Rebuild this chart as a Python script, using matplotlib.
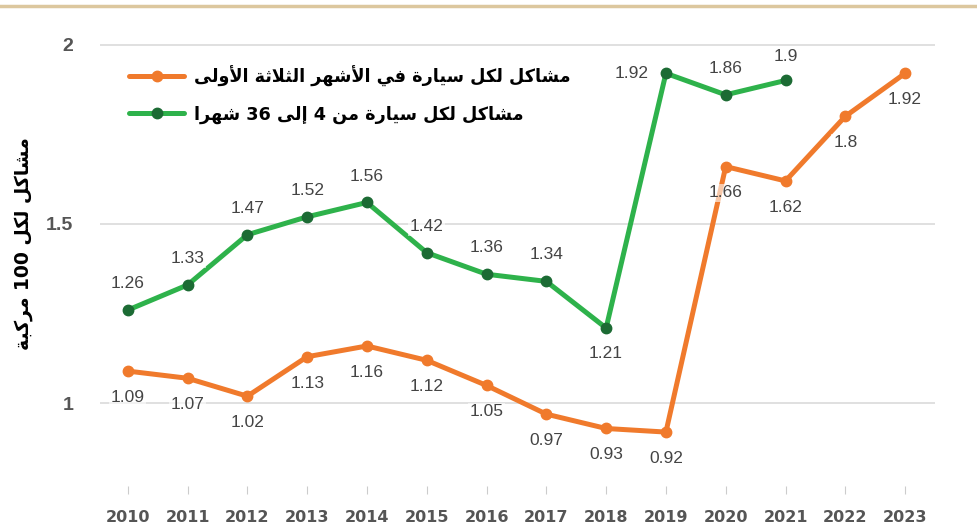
import re

import matplotlib
matplotlib.use("Agg")
import matplotlib.pyplot as plt
from matplotlib.lines import Line2D


years = [2010, 2011, 2012, 2013, 2014, 2015, 2016, 2017, 2018, 2019, 2020, 2021, 2022, 2023]

first_3_months = [1.09, 1.07, 1.02, 1.13, 1.16, 1.12, 1.05, 0.97, 0.93, 0.92, 1.66, 1.62, 1.80, 1.92]
months_4_to_36 = [1.26, 1.33, 1.47, 1.52, 1.56, 1.42, 1.36, 1.34, 1.21, 1.92, 1.86, 1.90]

label_first = "مشاكل لكل سيارة في الأشهر الثلاثة الأولى"
label_later = "مشاكل لكل سيارة من 4 إلى 36 شهرا"
y_title = "مشاكل لكل 100 مركبة"

y_ticks = [1, 1.5, 2]
y_tick_labels = ["1", "1.5", "2"]

ORANGE = "#f07a2c"
GREEN = "#2eb24b"
GREEN_DARK = "#1c6b34"
LABEL_GREY = "#444444"
TICK_GREY = "#555555"


# matplotlib does no arabic shaping, so pick the presentation forms by hand
# forms: isolated, final, initial, medial
FORMS = {
    "ا": ("\uFE8D", "\uFE8E", None, None),
    "أ": ("\uFE83", "\uFE84", None, None),
    "إ": ("\uFE87", "\uFE88", None, None),
    "آ": ("\uFE81", "\uFE82", None, None),
    "ب": ("\uFE8F", "\uFE90", "\uFE91", "\uFE92"),
    "ة": ("\uFE93", "\uFE94", None, None),
    "ت": ("\uFE95", "\uFE96", "\uFE97", "\uFE98"),
    "ث": ("\uFE99", "\uFE9A", "\uFE9B", "\uFE9C"),
    "د": ("\uFEA9", "\uFEAA", None, None),
    "ر": ("\uFEAD", "\uFEAE", None, None),
    "ز": ("\uFEAF", "\uFEB0", None, None),
    "س": ("\uFEB1", "\uFEB2", "\uFEB3", "\uFEB4"),
    "ش": ("\uFEB5", "\uFEB6", "\uFEB7", "\uFEB8"),
    "ف": ("\uFED1", "\uFED2", "\uFED3", "\uFED4"),
    "ك": ("\uFED9", "\uFEDA", "\uFEDB", "\uFEDC"),
    "ل": ("\uFEDD", "\uFEDE", "\uFEDF", "\uFEE0"),
    "م": ("\uFEE1", "\uFEE2", "\uFEE3", "\uFEE4"),
    "ن": ("\uFEE5", "\uFEE6", "\uFEE7", "\uFEE8"),
    "ه": ("\uFEE9", "\uFEEA", "\uFEEB", "\uFEEC"),
    "و": ("\uFEED", "\uFEEE", None, None),
    "ى": ("\uFEEF", "\uFEF0", None, None),
    "ي": ("\uFEF1", "\uFEF2", "\uFEF3", "\uFEF4"),
}
LAM_ALEF = {
    "آ": ("\uFEF5", "\uFEF6", None, None),
    "أ": ("\uFEF7", "\uFEF8", None, None),
    "إ": ("\uFEF9", "\uFEFA", None, None),
    "ا": ("\uFEFB", "\uFEFC", None, None),
}


def shape_arabic(text):
    units = []
    i = 0
    while i < len(text):
        ch = text[i]
        if ch == "ل" and i + 1 < len(text) and text[i + 1] in LAM_ALEF:
            units.append(LAM_ALEF[text[i + 1]])
            i += 2
            continue
        units.append(FORMS.get(ch, ch))
        i += 1

    out = []
    for k, u in enumerate(units):
        if isinstance(u, str):
            out.append(u)
            continue
        prev = units[k - 1] if k > 0 else None
        nxt = units[k + 1] if k + 1 < len(units) else None
        joins_prev = isinstance(prev, tuple) and prev[2] is not None
        joins_next = isinstance(nxt, tuple) and u[2] is not None
        if joins_prev and joins_next:
            out.append(u[3])
        elif joins_prev:
            out.append(u[1])
        elif joins_next:
            out.append(u[2])
        else:
            out.append(u[0])

    visual = "".join(out)[::-1]
    return re.sub(r"\d+", lambda m: m.group()[::-1], visual)


plt.rcParams["font.family"] = ["DejaVu Sans"]

fig = plt.figure(figsize=(9.77, 5.27), dpi=100)
ax = fig.add_axes([0.102, 0.078, 0.855, 0.851])

ax.plot(years, first_3_months, color=ORANGE, lw=3.6, marker="o", ms=7.5,
        mfc=ORANGE, mec=ORANGE, solid_capstyle="round", zorder=3,
        label=shape_arabic(label_first))
ax.plot(years[:len(months_4_to_36)], months_4_to_36, color=GREEN, lw=3.6, marker="o", ms=7.5,
        mfc=GREEN_DARK, mec=GREEN_DARK, solid_capstyle="round", zorder=3,
        label=shape_arabic(label_later))

label_font = dict(family="Liberation Sans", size=12.5, color=LABEL_GREY, ha="center", va="center",
                  zorder=5, bbox=dict(boxstyle="square,pad=0.1", fc="white", ec="none", alpha=0.6))

for x, v in zip(years, first_3_months):
    ax.annotate(f"{v:g}", (x, v), xytext=(0, -19), textcoords="offset points", **label_font)

green_offsets = {2018: (0, -18), 2019: (-25, 0), 2021: (0, 17)}
for x, v in zip(years, months_4_to_36):
    dx, dy = green_offsets.get(x, (0, 19))
    ax.annotate(f"{v:g}", (x, v), xytext=(dx, dy), textcoords="offset points", **label_font)

ax.set_xlim(2009.53, 2023.5)
ax.set_ylim(0.77, 2.02)

ax.set_yticks(y_ticks)
ax.set_yticklabels(y_tick_labels, family="Liberation Sans", fontweight="bold",
                   fontsize=14, color=TICK_GREY)
ax.set_xticks(years)
ax.set_xticklabels([str(y) for y in years], family="Liberation Sans Narrow", fontweight="bold",
                   fontsize=11.5, color=TICK_GREY)
ax.tick_params(axis="y", length=0, pad=19)
ax.tick_params(axis="x", length=6, width=0.8, color="#cccccc", pad=11)

ax.grid(axis="y", color="#dddddd", lw=1.3, zorder=0)
ax.set_axisbelow(True)
for s in ax.spines.values():
    s.set_visible(False)

ax.set_ylabel(shape_arabic(y_title), fontsize=13.5, fontweight="bold", color="black")
ax.yaxis.set_label_coords(-0.08, 0.54)

leg = ax.legend(loc="upper left", bbox_to_anchor=(0.027, 0.953), frameon=False,
                prop=dict(family="DejaVu Sans", weight="bold", size=12.7),
                handlelength=3.1, handletextpad=0.55, labelspacing=1.05, borderaxespad=0)
for t in leg.get_texts():
    t.set_color("black")

fig.add_artist(Line2D([0, 1], [0.988, 0.988], transform=fig.transFigure,
                      color="#dcc79e", lw=2.5))

fig.savefig("out.png", dpi=100, facecolor="white")
